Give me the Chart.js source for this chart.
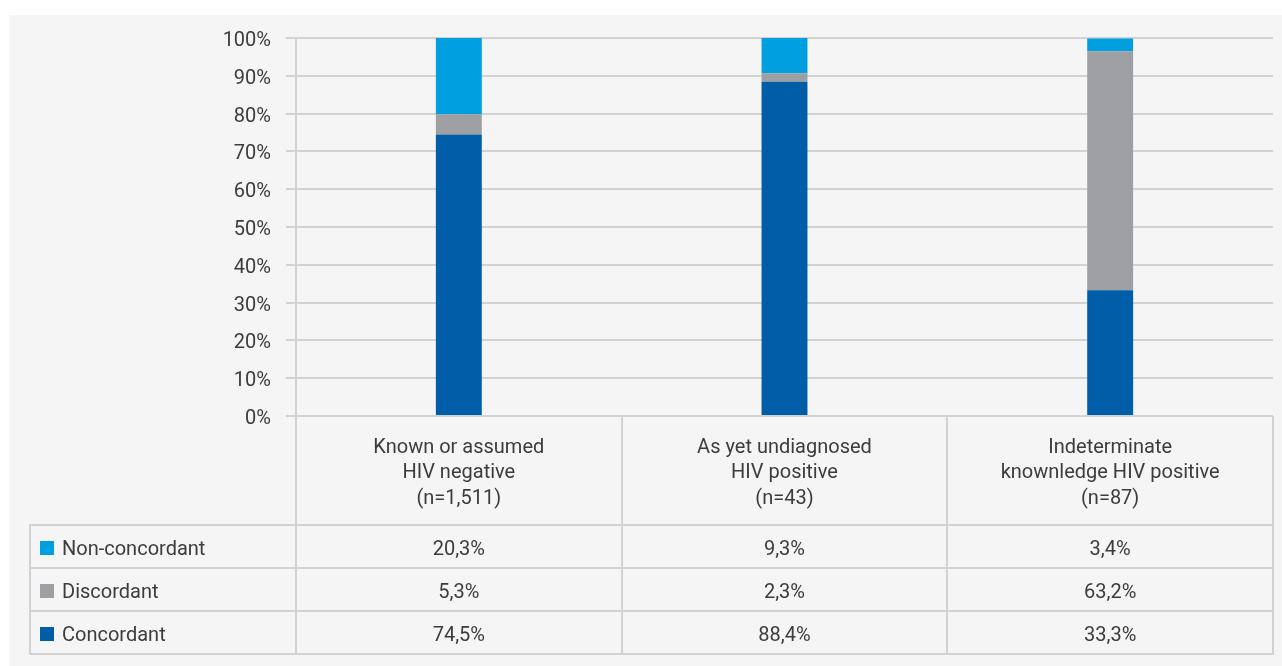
<!DOCTYPE html>
<html>
<head>
<meta charset="utf-8">
<script src="https://cdn.jsdelivr.net/npm/chart.js"></script>
<style>
html,body{margin:0;padding:0;background:#fff;width:1282px;height:666px;overflow:hidden;font-family:Roboto,sans-serif;}
#panel{position:absolute;left:9px;top:15px;right:0;bottom:0;background:#f5f5f5;}
#chart{position:absolute;left:0;top:0;}
.ln{position:absolute;background:#d2d2d2;}
.cell{position:absolute;display:flex;align-items:center;justify-content:center;font-size:20px;color:#3c3c3c;padding-top:2px;box-sizing:border-box;}
.cell.lg{justify-content:flex-start;padding-left:10px;}
.sw{display:inline-block;width:14px;height:14px;margin-right:8px;}
</style>
</head>
<body>
<div id="panel"></div>
<canvas id="chart" width="1282" height="666"></canvas>
<div id="tbl"></div>
<script>
// data
const categories = [
  ['Known or assumed', 'HIV negative', '(n=1,511)'],
  ['As yet undiagnosed', 'HIV positive', '(n=43)'],
  ['Indeterminate', 'knownledge HIV positive', '(n=87)']
];
const concordant = [74.5, 88.4, 33.3];
const discordant = [5.3, 2.3, 63.2];
const nonConcordant = [20.3, 9.3, 3.4];
const yTicks = [0, 10, 20, 30, 40, 50, 60, 70, 80, 90, 100];

const COL_CONC = '#005da8', COL_DISC = '#9d9fa2', COL_NON = '#009fdf';
const TXT = '#3c3c3c', GRID = '#d2d2d2';

const chart = new Chart(document.getElementById('chart'), {
  type: 'bar',
  data: {
    labels: categories,
    datasets: [
      {label: 'Concordant', data: concordant, backgroundColor: COL_CONC},
      {label: 'Discordant', data: discordant, backgroundColor: COL_DISC},
      {label: 'Non-concordant', data: nonConcordant, backgroundColor: COL_NON}
    ]
  },
  options: {
    responsive: false,
    animation: false,
    layout: {padding: {top: 38, right: 9, bottom: 0, left: 0}},
    datasets: {bar: {barPercentage: 0.141, categoryPercentage: 1}},
    plugins: {legend: {display: false}, tooltip: {enabled: false}},
    scales: {
      x: {
        stacked: true,
        grid: {display: false},
        border: {display: false},
        ticks: {padding: 11, color: TXT, maxRotation: 0, autoSkip: false,
                font: {family: 'Roboto', size: 20, lineHeight: 1.28}},
        afterFit: s => { s.height = 250; }
      },
      y: {
        stacked: true, min: 0, max: 100,
        afterFit: s => { s.width = 296; },
        afterBuildTicks: s => { s.ticks = yTicks.map(v => ({value: v})); },
        ticks: {padding: 15, labelOffset: 3, color: TXT, callback: v => v + '%',
                font: {family: 'Roboto', size: 20}},
        grid: {color: GRID, lineWidth: 2, tickLength: 10},
        border: {color: GRID, width: 2}
      }
    }
  }
});

// data table under the chart, aligned to the x scale
const tbl = document.getElementById('tbl');
const xs = chart.scales.x, area = chart.chartArea;
const half = (xs.getPixelForValue(1) - xs.getPixelForValue(0)) / 2;
const cols = [30].concat(categories.map((c, i) => xs.getPixelForValue(i) - half), [area.right]);
const headBottom = 525, rowH = 43;
const rows = [
  {name: 'Non-concordant', color: COL_NON, vals: nonConcordant},
  {name: 'Discordant', color: COL_DISC, vals: discordant},
  {name: 'Concordant', color: COL_CONC, vals: concordant}
];
const fmt = v => v.toFixed(1).replace('.', ',') + '%';
function line(x, y, w, h) {
  const d = document.createElement('div');
  d.className = 'ln';
  d.style.cssText = `left:${x}px;top:${y}px;width:${w}px;height:${h}px`;
  tbl.appendChild(d);
}
const bottom = headBottom + rowH * rows.length;
// header row verticals
for (let i = 1; i < cols.length; i++) line(cols[i] - 1, area.bottom, 2, headBottom - area.bottom);
// horizontals
for (let r = 0; r <= rows.length; r++) line(cols[0] - 1, headBottom + r * rowH - 1, cols[cols.length - 1] - cols[0] + 2, 2);
// verticals in body
for (let i = 0; i < cols.length; i++) line(cols[i] - 1, headBottom, 2, bottom - headBottom);
rows.forEach((r, ri) => {
  const y = headBottom + ri * rowH;
  const lg = document.createElement('div');
  lg.className = 'cell lg';
  lg.style.cssText = `left:${cols[0]}px;top:${y}px;width:${cols[1] - cols[0]}px;height:${rowH}px`;
  lg.innerHTML = `<span class="sw" style="background:${r.color}"></span>${r.name}`;
  tbl.appendChild(lg);
  r.vals.forEach((v, ci) => {
    const c = document.createElement('div');
    c.className = 'cell';
    c.style.cssText = `left:${cols[ci + 1]}px;top:${y}px;width:${cols[ci + 2] - cols[ci + 1]}px;height:${rowH}px`;
    c.textContent = fmt(v);
    tbl.appendChild(c);
  });
});
</script>
</body>
</html>
